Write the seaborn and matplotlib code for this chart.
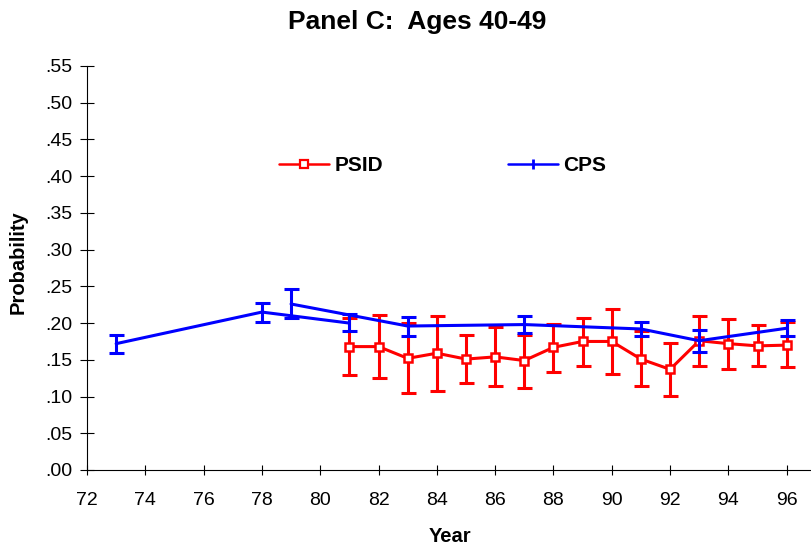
import numpy as np
import pandas as pd
import matplotlib
matplotlib.use("Agg")
import matplotlib.pyplot as plt
from matplotlib.lines import Line2D
import seaborn as sns

# ---------------- data ----------------
psid_year = [81, 82, 83, 84, 85, 86, 87, 88, 89, 90, 91, 92, 93, 94, 95, 96]
psid_prob = [0.168, 0.168, 0.152, 0.159, 0.151, 0.154, 0.149, 0.167,
             0.175, 0.175, 0.151, 0.137, 0.176, 0.172, 0.169, 0.170]
psid_lo = [0.129, 0.125, 0.105, 0.108, 0.118, 0.114, 0.111, 0.133,
           0.142, 0.131, 0.114, 0.101, 0.141, 0.138, 0.141, 0.140]
psid_hi = [0.207, 0.211, 0.200, 0.210, 0.184, 0.194, 0.184, 0.199,
           0.207, 0.219, 0.189, 0.173, 0.210, 0.206, 0.198, 0.201]

cps_year = [73, 78, 79, 81, 83, 87, 91, 93, 96]
cps_prob = [0.172, 0.215, 0.226, 0.200, 0.196, 0.198, 0.192, 0.176, 0.193]
cps_lo = [0.159, 0.201, 0.207, 0.189, 0.183, 0.186, 0.182, 0.161, 0.183]
cps_hi = [0.184, 0.227, 0.247, 0.212, 0.208, 0.209, 0.202, 0.190, 0.204]
cps_segment = [1, 1, 2, 1, 2, 2, 2, 2, 2]

x_ticks = list(range(72, 97, 2))
y_ticks = [0.00, 0.05, 0.10, 0.15, 0.20, 0.25, 0.30, 0.35, 0.40, 0.45, 0.50, 0.55]
y_tick_labels = [".00", ".05", ".10", ".15", ".20", ".25", ".30", ".35",
                 ".40", ".45", ".50", ".55"]

# ---------------- style ----------------
sns.set_style("ticks")
plt.rcParams["font.family"] = ["Liberation Sans", "DejaVu Sans"]
plt.rcParams["text.color"] = "black"
plt.rcParams["axes.labelcolor"] = "black"
plt.rcParams["xtick.color"] = "black"
plt.rcParams["ytick.color"] = "black"

RED = "#FF0000"
BLUE = "#0000FF"

W, H = 812, 550
fig = plt.figure(figsize=(W / 100, H / 100), dpi=100)
ax = fig.add_axes([87 / W, 1 - 470 / H, (810 - 87) / W, (470 - 66) / H])

psid_df = pd.DataFrame({"Year": psid_year, "Probability": psid_prob})
cps_df = pd.DataFrame({"Year": cps_year, "Probability": cps_prob,
                       "segment": cps_segment})

# PSID
p = np.array(psid_prob)
ax.errorbar(psid_year, psid_prob,
            yerr=[p - np.array(psid_lo), np.array(psid_hi) - p],
            fmt="none", ecolor=RED, elinewidth=2.2, capsize=5.4,
            capthick=2.2, zorder=2)
sns.lineplot(data=psid_df, x="Year", y="Probability", color=RED, lw=2.2,
             marker="s", markersize=6.0, markerfacecolor="white",
             markeredgecolor=RED, markeredgewidth=1.8, ax=ax, zorder=3)

# CPS
c = np.array(cps_prob)
ax.errorbar(cps_year, cps_prob,
            yerr=[c - np.array(cps_lo), np.array(cps_hi) - c],
            fmt="none", ecolor=BLUE, elinewidth=2.2, capsize=5.4,
            capthick=2.2, zorder=4)
sns.lineplot(data=cps_df, x="Year", y="Probability", units="segment",
             estimator=None, color=BLUE, lw=2.2, marker="|", markersize=7,
             markeredgewidth=2, markeredgecolor=BLUE, ax=ax, zorder=5)

# axes
ax.set_xlim(72, 96.8)
ax.set_ylim(0, 0.55)
ax.set_xticks(x_ticks)
ax.set_xticklabels([str(t) for t in x_ticks])
ax.set_yticks(y_ticks)
ax.set_yticklabels(y_tick_labels)
ax.set_xlabel("")
ax.set_ylabel("")
for s in ["top", "right"]:
    ax.spines[s].set_visible(False)
for s in ["left", "bottom"]:
    ax.spines[s].set_color("black")
    ax.spines[s].set_linewidth(0.8)
ax.tick_params(axis="y", direction="inout", length=10, width=0.8,
               pad=5.5, labelsize=14, colors="black")
ax.tick_params(axis="x", direction="inout", length=7, width=0.8,
               pad=12, labelsize=14, colors="black")
if ax.get_legend() is not None:
    ax.get_legend().remove()

# legend
handles = [
    Line2D([], [], color=RED, lw=1.8, marker="s", markersize=5.5,
           markerfacecolor="white", markeredgecolor=RED, markeredgewidth=1.6),
    Line2D([], [], color=BLUE, lw=1.8, marker="|", markersize=7,
           markeredgewidth=2, markeredgecolor=BLUE),
]
fig.legend(handles, ["PSID", "CPS"], ncol=2, frameon=False,
           loc="center left", bbox_to_anchor=(279 / W, 1 - 166 / H),
           borderpad=0, borderaxespad=0, handlelength=2.4,
           handletextpad=0.25, columnspacing=6.0,
           prop={"weight": "bold", "size": 15})

# texts
fig.text(417 / W, 1 - 22 / H, "Panel C:  Ages 40-49", ha="center",
         va="center", fontsize=19, fontweight="bold", color="black")
fig.text(18.5 / W, 1 - 262 / H, "Probability", rotation=90, ha="center",
         va="center", fontsize=14.5, fontweight="bold", color="black")
fig.text(450 / W, 1 - 537 / H, "Year", ha="center", va="center",
         fontsize=14.5, fontweight="bold", color="black")

fig.savefig("out.png", dpi=100, facecolor="white")
